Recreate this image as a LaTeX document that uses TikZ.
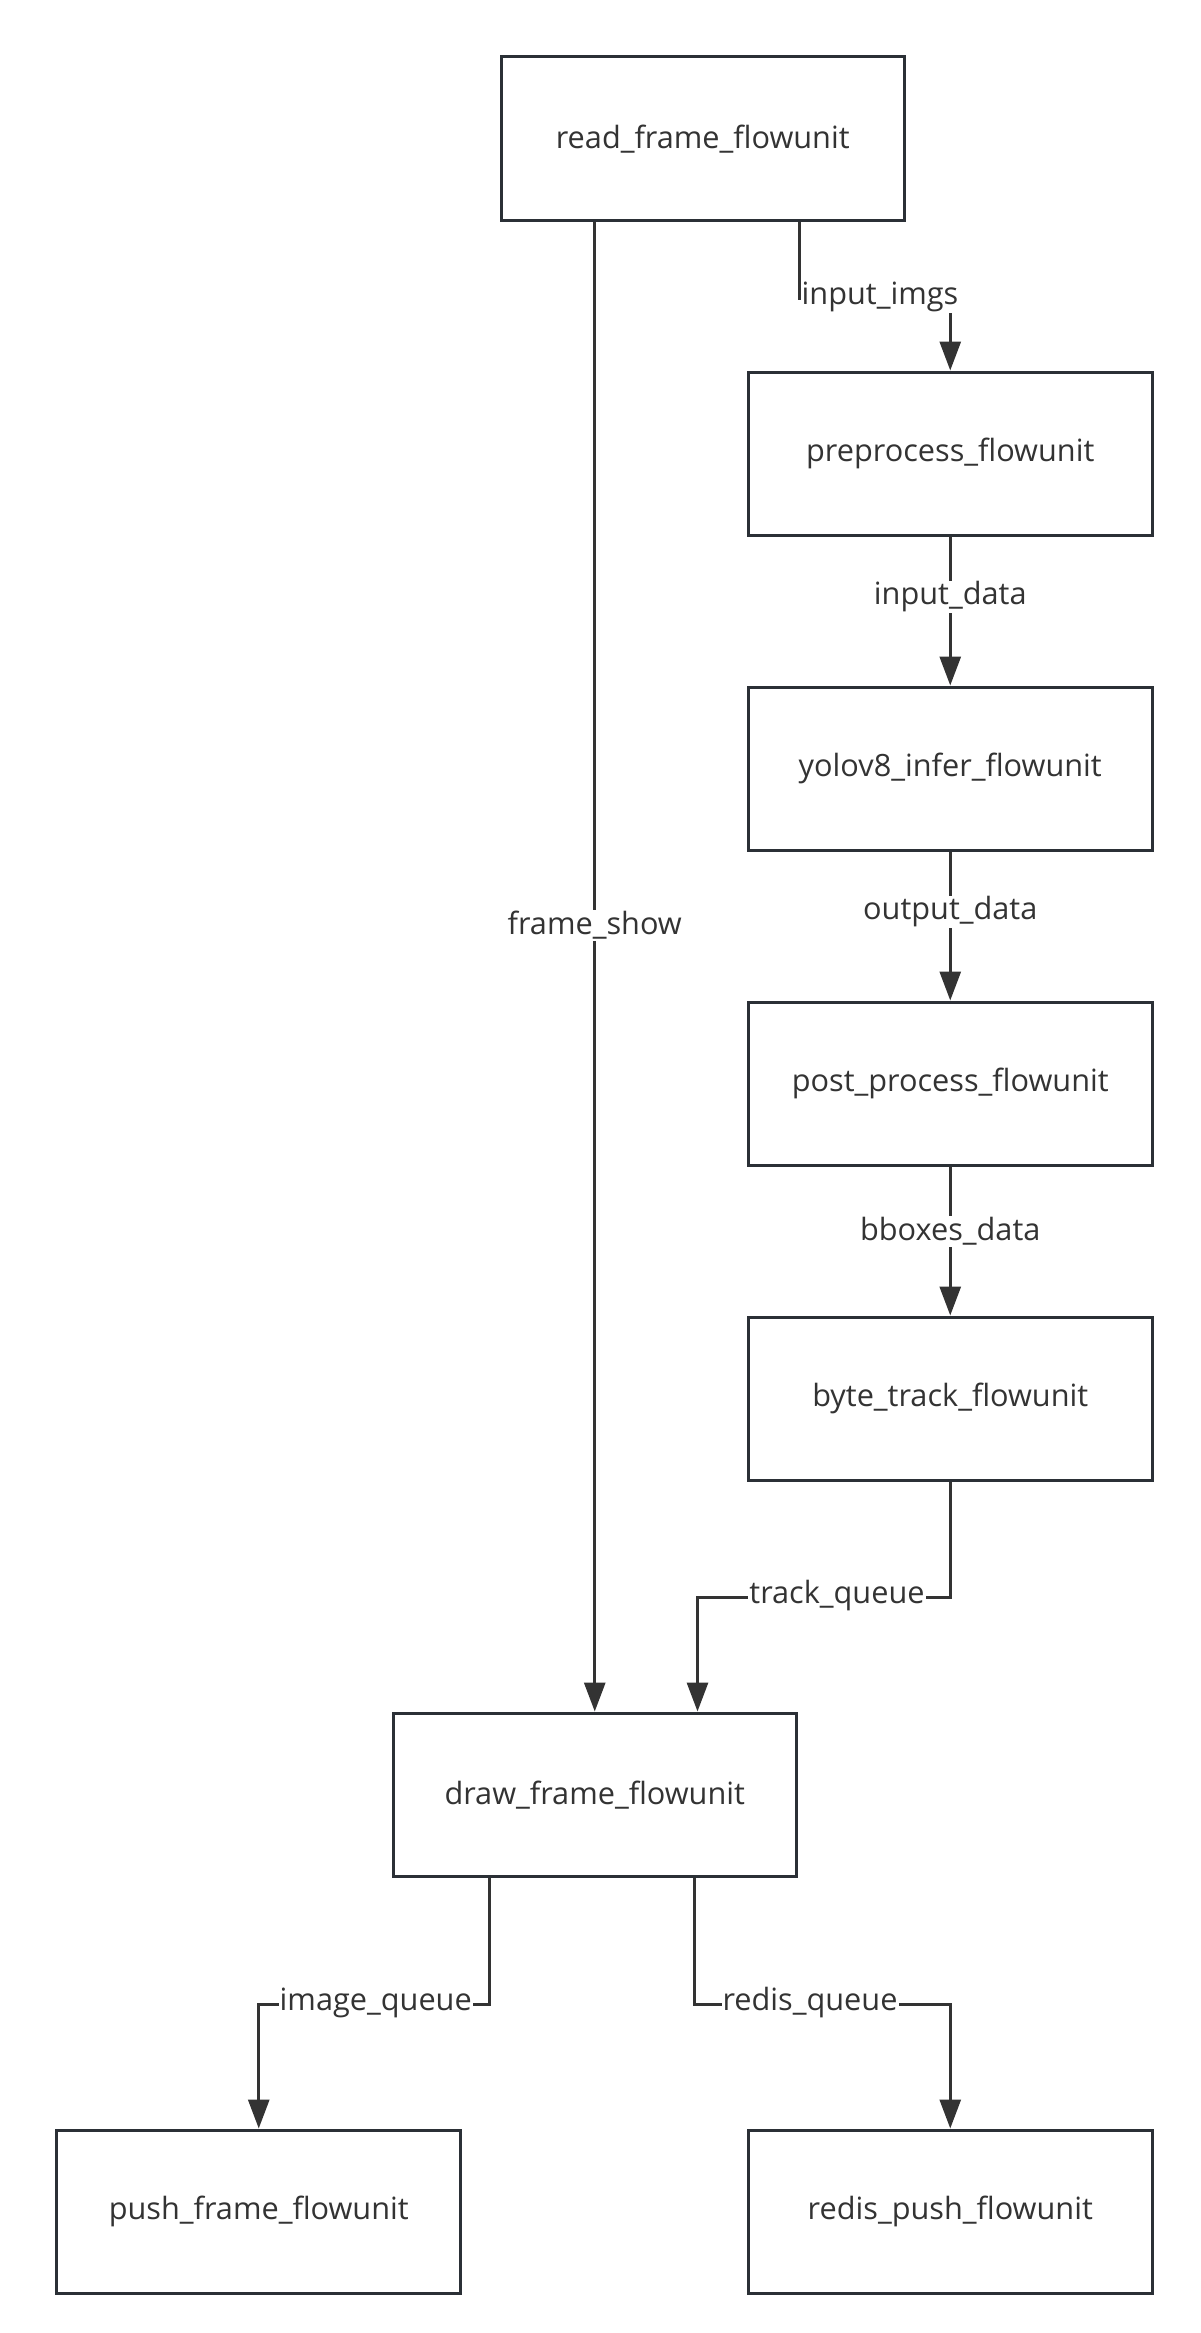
\documentclass[tikz,border=0pt]{standalone}
\usepackage{fontspec}
\setmainfont{Open Sans}
\usetikzlibrary{arrows.meta}
\definecolor{ln}{HTML}{333333}
\definecolor{bx}{HTML}{2B3036}
\begin{document}
\begin{tikzpicture}[x=1bp,y=-1bp,
  box/.style={draw=bx,line width=3bp,minimum width=403.5bp,minimum height=163.5bp,inner sep=0pt,font=\fontsize{30.8}{36}\selectfont,text=ln},
  lbl/.style={fill=white,inner sep=1bp,font=\fontsize{30.8}{36}\selectfont,text=ln},
  conn/.style={draw=ln,line width=3bp,-{Triangle[length=29bp,width=21bp]}}]
\useasboundingbox[fill=white] (0,0) rectangle (1200,2333);
\node[box] (read) at (702.75,138.75) {read\_frame\_flowunit};
\node[box] (pre) at (950.25,453.75) {preprocess\_flowunit};
\node[box] (yolo) at (950.25,768.75) {yolov8\_infer\_flowunit};
\node[box] (post) at (950.25,1083.75) {post\_process\_flowunit};
\node[box] (byte) at (950.25,1398.75) {byte\_track\_flowunit};
\node[box] (draw) at (594.75,1794.75) {draw\_frame\_flowunit};
\node[box] (push) at (258.75,2211.75) {push\_frame\_flowunit};
\node[box] (redis) at (950.25,2211.75) {redis\_push\_flowunit};
% connectors
\draw[conn] ([xshift=97bp]read.south) -- ++(0,76.5) -| (pre.north);
\draw[conn] (draw.north |- read.south) -- (draw.north);
\draw[conn] (pre.south) -- (yolo.north);
\draw[conn] (yolo.south) -- (post.north);
\draw[conn] (post.south) -- (byte.north);
\draw[conn] (byte.south) -- ++(0,115.5) -| ([xshift=102.75bp]draw.north);
\draw[conn] ([xshift=-105.75bp]draw.south) -- ++(0,126) -| (push.north);
\draw[conn] ([xshift=99.75bp]draw.south) -- ++(0,126) -| (redis.north);
% labels
\node[lbl] (l1) at (880,297) {input\_imgs};
\node[lbl] (l2) at (594.75,925.5) {frame\_show};
\node[lbl] (l3) at (950.25,597) {input\_data};
\node[lbl] (l4) at (950.25,912) {output\_data};
\node[lbl] (l5) at (950.25,1231.5) {bboxes\_data};
\node[lbl] (l6) at (837,1596) {track\_queue};
\node[lbl] (l7) at (375.75,2002.5) {image\_queue};
\node[lbl] (l8) at (810,2002.5) {redis\_queue};
\end{tikzpicture}
\end{document}
